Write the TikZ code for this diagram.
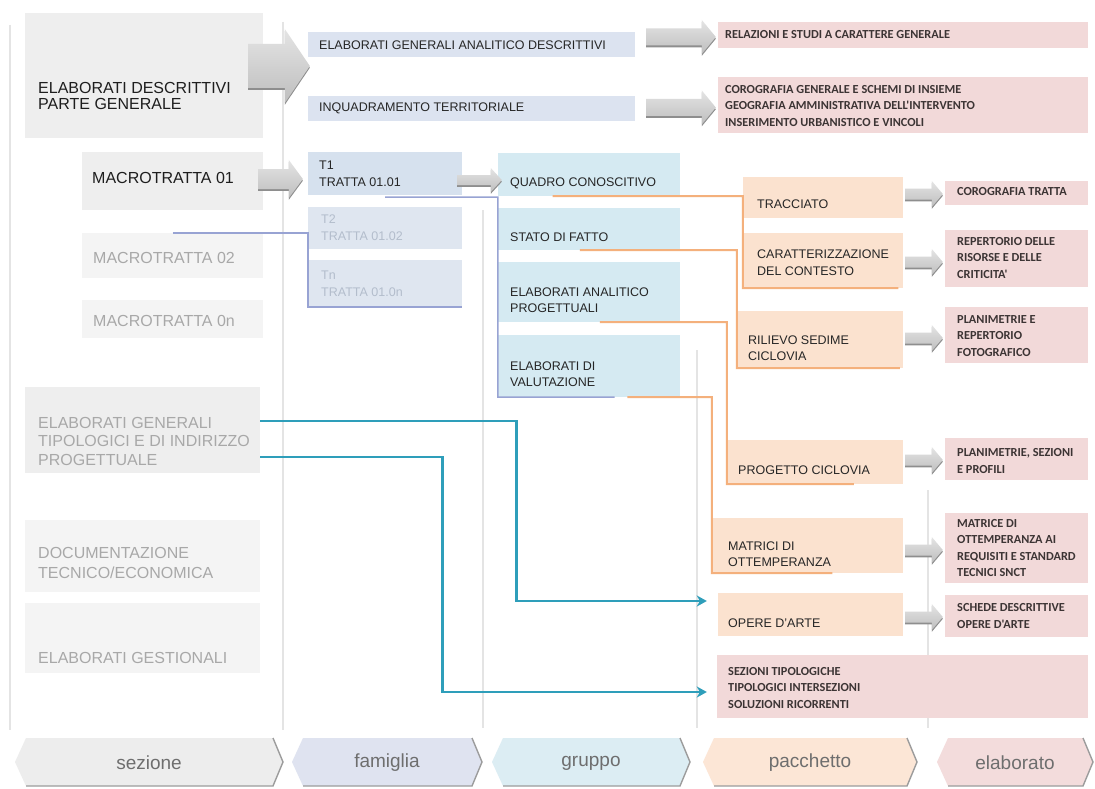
\documentclass[tikz,border=0pt]{standalone}
\usepackage{fontspec}
\setmainfont{Liberation Sans}
\newfontfamily\elabfont{Carlito}
\usetikzlibrary{fit,calc,arrows.meta}
\definecolor{secc}{HTML}{EEEEEE}
\definecolor{secf}{HTML}{F4F4F4}
\definecolor{famc}{HTML}{DCE3F0}
\definecolor{t1c}{HTML}{D6E1EE}
\definecolor{tfc}{HTML}{DFE6F0}
\definecolor{grpc}{HTML}{D5EAF2}
\definecolor{pacc}{HTML}{FBE2CF}
\definecolor{elac}{HTML}{F2D9D9}
\definecolor{orl}{HTML}{F4B07C}
\definecolor{pul}{HTML}{98A3D3}
\definecolor{tea}{HTML}{2E9EBA}
\definecolor{arrdark}{HTML}{8E8E8E}
\definecolor{arrtop}{HTML}{E4E4E4}
\definecolor{arrbot}{HTML}{BEBEBE}
\definecolor{coll}{HTML}{E4E4E4}
\definecolor{chevedgec}{HTML}{9C9C9C}
\definecolor{chevtxt}{HTML}{6E6E6E}
\definecolor{txtdark}{HTML}{1E1E1E}
\definecolor{txtmid}{HTML}{262626}
\definecolor{txtfaint}{HTML}{A8A8A8}
\definecolor{txttf}{HTML}{B3BDCC}
\definecolor{elatc}{HTML}{3C3434}
\definecolor{cs}{HTML}{EDEDED}
\definecolor{cf}{HTML}{DFE3F0}
\definecolor{cg}{HTML}{DCEDF3}
\definecolor{cp}{HTML}{FCE6D6}
\definecolor{ce}{HTML}{F3DCDC}
\tikzset{
 bxs/.style={fill=#1, draw=none, inner sep=0pt},
 sectxt/.style={anchor=west, inner sep=0pt, align=left, font=\fontsize{16}{18.5}\selectfont, text=txtdark},
 secfaint/.style={sectxt, text=txtfaint},
 midtxt/.style={anchor=west, inner sep=0pt, align=left, font=\fontsize{12.5}{16}\selectfont, text=txtmid},
 tftxt/.style={midtxt, text=txttf},
 elatxt/.style={anchor=west, inner sep=0pt, align=left, font=\elabfont\bfseries\fontsize{12.3}{16.2}\selectfont, text=elatc},
 chevlab/.style={inner sep=0pt, font=\fontsize{19}{22}\selectfont, text=chevtxt},
 pline/.style={draw=pul, line width=1.5pt},
 oline/.style={draw=orl, line width=2pt},
 tline/.style={draw=tea, line width=2.8pt, -{Stealth[length=10pt,width=11pt,inset=3pt]}},
 colline/.style={draw=coll, line width=2.5pt},
 chevedge/.style={draw=chevedgec, line width=1.4pt},
}
\newcommand\bx[6]{\node[bxs=#2, fit={(#3,#4) (#5,#6)}] (#1) {};}
\newcommand\barrow[5]{%
 \fill[arrdark] ($(#1)+(0,1.8-#3)$) -- ($(#2)+(-#5,1.8-#3)$) -- ($(#2)+(-#5,1.8-#4)$) -- ($(#2)+(0,1.8)$) -- ($(#2)+(-#5,1.8+#4)$) -- ($(#2)+(-#5,1.8+#3)$) -- ($(#1)+(0,1.8+#3)$) -- cycle;
 \shade[top color=arrtop, bottom color=arrbot] ($(#1)+(0,-#3)$) -- ($(#2)+(-#5,-#3)$) -- ($(#2)+(-#5,-#4)$) -- (#2) -- ($(#2)+(-#5,#4)$) -- ($(#2)+(-#5,#3)$) -- ($(#1)+(0,#3)$) -- cycle;}
\newcommand\chev[5]{%
 \fill[#2] (#3,762) -- (#3+11,738) -- (#4-10,738) -- (#4,762) -- (#4-10,786) -- (#3+11,786) -- cycle;
 \draw[chevedge] (#4-10,738) -- (#4,762) -- (#4-10,786) -- (#3+11,786);
 \node[chevlab] (#1) at ({(#3+#4)/2},763) {#5};}
\begin{document}
\begin{tikzpicture}[x=1pt,y=-1pt]
\useasboundingbox (0,0) rectangle (1095,789);
\fill[white] (0,0) rectangle (1095,789);
% column dividers
\draw[colline] (10,25) -- (10,730);
\draw[colline] (283,22) -- (283,730);
\draw[colline] (483,210) -- (483,728);
\draw[colline] (697,350) -- (697,728);
\draw[colline] (928,490) -- (928,728);
% sezione boxes
\bx{s1}{secc}{25}{13}{263}{138}
\bx{m01}{secc}{82}{152}{263}{210}
\bx{m02}{secf}{82}{233}{263}{278}
\bx{m0n}{secf}{82}{300}{263}{338}
\bx{egt}{secc}{25}{387}{260}{473}
\bx{doc}{secf}{25}{520}{260}{592}
\bx{gest}{secf}{25}{603}{260}{673}
% famiglia boxes
\bx{egad}{famc}{308}{32}{635}{57}
\bx{inq}{famc}{308}{96}{635}{121}
\bx{t1}{t1c}{308}{152}{462}{195}
\bx{t2}{tfc}{308}{207}{462}{249}
\bx{tn}{tfc}{308}{260}{462}{307}
% gruppo boxes
\bx{qc}{grpc}{498}{153}{680}{196}
\bx{sf}{grpc}{498}{208}{680}{250}
\bx{eap}{grpc}{498}{262}{680}{322}
\bx{ev}{grpc}{498}{335}{680}{397}
% pacchetto boxes
\bx{tr}{pacc}{743}{177}{903}{218}
\bx{car}{pacc}{743}{233}{903}{288}
\bx{ril}{pacc}{737}{311}{903}{368}
\bx{prog}{pacc}{727}{440}{903}{484}
\bx{mat}{pacc}{712}{518}{903}{573}
\bx{op}{pacc}{718}{593}{903}{636}
% elaborato boxes
\bx{rel}{elac}{718}{22}{1088}{48}
\bx{cor}{elac}{718}{77}{1088}{133}
\bx{ct}{elac}{945}{181}{1088}{205}
\bx{rep}{elac}{945}{230}{1088}{287}
\bx{pla}{elac}{945}{307}{1088}{363}
\bx{pls}{elac}{945}{438}{1088}{480}
\bx{mtx}{elac}{945}{513}{1088}{583}
\bx{sch}{elac}{945}{595}{1088}{637}
\bx{sez}{elac}{717}{655}{1088}{718}
% purple connectors
\draw[pline] (m02.north) -- (m02.north -| t2.west) -- (tn.south west) -- (tn.south east);
\draw[pline] ([yshift=-2pt]t1.south) -- ([yshift=-2pt]t1.south -| qc.west) -- (ev.south west) -- ($(ev.south west)!0.64!(ev.south east)$);
% orange connectors
\coordinate (o1) at ($(qc.south west)!0.3!(qc.south east)$);
\coordinate (o2) at ($(sf.south west)!0.45!(sf.south east)$);
\coordinate (o3) at ($(eap.south west)!0.56!(eap.south east)$);
\coordinate (o4) at ($(ev.south west)!0.71!(ev.south east)$);
\draw[oline] (o1) -- (o1 -| car.west) -- (car.south west) -- ($(car.south west)!0.97!(car.south east)$);
\draw[oline] (o2) -- (o2 -| ril.west) -- (ril.south west) -- ($(ril.south west)!0.98!(ril.south east)$);
\draw[oline] (o3) -- (o3 -| prog.west) -- (prog.south west) -- ($(prog.south west)!0.72!(prog.south east)$);
\draw[oline] (o4) -- (o4 -| mat.west) -- (mat.south west) -- ($(mat.south west)!0.63!(mat.south east)$);
% teal connectors
\draw[tline] ([yshift=9pt]egt.east) -- ++(256,0) |- ([xshift=-11pt,yshift=13.5pt]op.west);
\draw[tline] ([yshift=-27pt]egt.east) -- ++(182,0) |- ([xshift=-10pt,yshift=-5.5pt]sez.west);
% block arrows
\coordinate (A0s) at ([xshift=-15pt,yshift=9.5pt]s1.east);
\coordinate (A0e) at ($(A0s -| egad.west)+(2,0)$);
\barrow{A0s}{A0e}{22}{37}{25}
\coordinate (A1s) at ([xshift=-5pt,yshift=2pt]m01.east);
\coordinate (A1e) at ($(A1s -| t1.west)+(-5,0)$);
\barrow{A1s}{A1e}{10}{19}{14}
\coordinate (A2s) at ([xshift=-5pt,yshift=-6.5pt]t1.east);
\coordinate (A2e) at ($(A2s -| qc.west)+(4,0)$);
\barrow{A2s}{A2e}{5}{12}{11}
\coordinate (A3s) at ([xshift=11pt,yshift=7.5pt]egad.east);
\coordinate (A3e) at ($(A3s -| rel.west)+(-2,0)$);
\barrow{A3s}{A3e}{8.5}{17}{14}
\coordinate (A4s) at ([xshift=11pt,yshift=1pt]inq.east);
\coordinate (A4e) at ($(A4s -| cor.west)+(-2,0)$);
\barrow{A4s}{A4e}{8.5}{17}{14}
\coordinate (A5s) at ([xshift=2pt,yshift=3.5pt]tr.east);
\coordinate (A5e) at ($(A5s -| ct.west)+(-2,0)$);
\barrow{A5s}{A5e}{5.5}{13}{11}
\coordinate (A6s) at ([xshift=2pt,yshift=-1.5pt]car.east);
\coordinate (A6e) at ($(A6s -| rep.west)+(-2,0)$);
\barrow{A6s}{A6e}{5.5}{13}{11}
\coordinate (A7s) at ([xshift=2pt,yshift=1.5pt]ril.east);
\coordinate (A7e) at ($(A7s -| pla.west)+(-2,0)$);
\barrow{A7s}{A7e}{5.5}{13}{11}
\coordinate (A8s) at ([xshift=2pt,yshift=2pt]prog.east);
\coordinate (A8e) at ($(A8s -| pls.west)+(-2,0)$);
\barrow{A8s}{A8e}{5.5}{13}{11}
\coordinate (A9s) at ([xshift=2pt,yshift=-4.5pt]mat.east);
\coordinate (A9e) at ($(A9s -| mtx.west)+(-2,0)$);
\barrow{A9s}{A9e}{5.5}{13}{11}
\coordinate (A10s) at ([xshift=2pt,yshift=-2.5pt]op.east);
\coordinate (A10e) at ($(A10s -| sch.west)+(-2,0)$);
\barrow{A10s}{A10e}{5.5}{13}{11}
% sezione texts
\node[sectxt, font=\fontsize{16}{16.5}\selectfont] (s1t) at (38,96) {ELABORATI DESCRITTIVI\\PARTE GENERALE};
\node[sectxt] (m01t) at (92,178) {MACROTRATTA 01};
\node[secfaint] (m02t) at (93,258) {MACROTRATTA 02};
\node[secfaint] (m0nt) at (93,321) {MACROTRATTA 0n};
\node[secfaint, font=\fontsize{16}{18.5}\selectfont] (egtt) at (38,441) {ELABORATI GENERALI\\TIPOLOGICI E DI INDIRIZZO\\PROGETTUALE};
\node[secfaint, font=\fontsize{16}{20}\selectfont] (doct) at (38,563) {DOCUMENTAZIONE\\TECNICO/ECONOMICA};
\node[secfaint] (gestt) at (38,658) {ELABORATI GESTIONALI};
% famiglia texts
\node[midtxt] (egadt) at (319,45) {ELABORATI GENERALI ANALITICO DESCRITTIVI};
\node[midtxt] (inqt) at (319,108) {INQUADRAMENTO TERRITORIALE};
\node[midtxt, font=\fontsize{12.5}{17}\selectfont] (t1t) at (319,174) {T1\\TRATTA 01.01};
\node[tftxt, font=\fontsize{12.5}{17}\selectfont] (t2t) at (321,228) {T2\\TRATTA 01.02};
\node[tftxt, font=\fontsize{12.5}{17}\selectfont] (tnt) at (321,284) {Tn\\TRATTA 01.0n};
% gruppo texts
\node[midtxt] (qct) at (510,183) {QUADRO CONOSCITIVO};
\node[midtxt] (sft) at (510,237) {STATO DI FATTO};
\node[midtxt] (eapt) at (510,300) {ELABORATI ANALITICO\\PROGETTUALI};
\node[midtxt] (evt) at (510,374) {ELABORATI DI\\VALUTAZIONE};
% pacchetto texts
\node[midtxt] (trt) at (757,204) {TRACCIATO};
\node[midtxt, font=\fontsize{12.5}{17}\selectfont] (cart) at (757,263) {CARATTERIZZAZIONE\\DEL CONTESTO};
\node[midtxt] (rilt) at (748,348) {RILIEVO SEDIME\\CICLOVIA};
\node[midtxt] (progt) at (738,470) {PROGETTO CICLOVIA};
\node[midtxt] (matt) at (728,554) {MATRICI DI\\OTTEMPERANZA};
\node[midtxt] (opt) at (728,623) {OPERE D'ARTE};
% elaborato texts
\node[elatxt] (relt) at (725,35) {RELAZIONI E STUDI A CARATTERE GENERALE};
\node[elatxt] (cort) at (725,106) {COROGRAFIA GENERALE E SCHEMI DI INSIEME\\GEOGRAFIA AMMINISTRATIVA DELL'INTERVENTO\\INSERIMENTO URBANISTICO E VINCOLI};
\node[elatxt] (ctt) at (957,192) {COROGRAFIA TRATTA};
\node[elatxt] (rept) at (957,258) {REPERTORIO DELLE\\RISORSE E DELLE\\CRITICITA'};
\node[elatxt] (plat) at (957,336) {PLANIMETRIE E\\REPERTORIO\\FOTOGRAFICO};
\node[elatxt] (plst) at (957,461) {PLANIMETRIE, SEZIONI\\E PROFILI};
\node[elatxt] (mtxt) at (957,548) {MATRICE DI\\OTTEMPERANZA AI\\REQUISITI E STANDARD\\TECNICI SNCT};
\node[elatxt] (scht) at (957,616) {SCHEDE DESCRITTIVE\\OPERE D'ARTE};
\node[elatxt] (sezt) at (728,688) {SEZIONI TIPOLOGICHE\\TIPOLOGICI INTERSEZIONI\\SOLUZIONI RICORRENTI};
% bottom chevrons
\chev{lsez}{cs}{15}{283}{sezione}
\chev{lfam}{cf}{292}{482}{famiglia}
\chev{lgru}{cg}{492}{690}{gruppo}
\chev{lpac}{cp}{703}{917}{pacchetto}
\chev{lela}{ce}{937}{1093}{elaborato}
\end{tikzpicture}
\end{document}
